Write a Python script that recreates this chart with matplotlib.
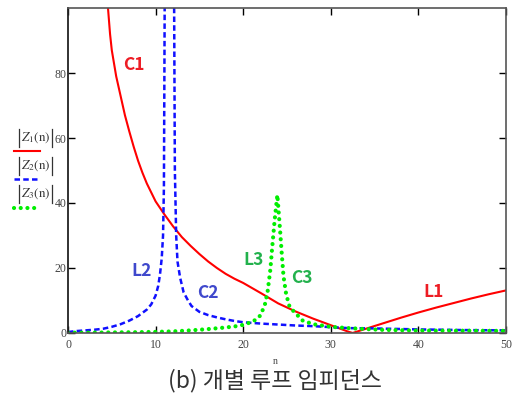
import matplotlib
matplotlib.use("Agg")
import matplotlib.pyplot as plt
from matplotlib.lines import Line2D

plt.rcParams["font.family"] = ["Noto Sans CJK KR", "DejaVu Sans"]
plt.rcParams["mathtext.fontset"] = "stix"

# |Z1(n)| : 직렬 공진 (C1 -> L1)
n1 = [4.55, 4.8, 5, 5.5, 6, 6.5, 7, 7.5, 8, 8.5, 9, 10, 11, 12, 13, 14, 15, 16,
      17, 18, 19, 20, 22, 24, 26, 28, 30, 32, 32.5, 34, 36, 38, 40, 42, 44, 46,
      48, 50]
z1 = [100.5, 92, 87, 79, 73, 67, 62, 57.3, 53, 49.3, 46, 40.5, 36.5, 32.8, 29.5,
      26.8, 24.3, 22, 20, 18.2, 16.7, 15.4, 12.3, 9.1, 6.6, 4.4, 2.4, 0.4, 0.0,
      1.3, 3.0, 4.7, 6.3, 7.8, 9.2, 10.6, 11.9, 13.1]

# |Z2(n)| : 병렬 공진 (L2 -> C2)
n2 = [0, 1, 2, 3, 4, 5, 6, 7, 8, 9, 9.5, 10, 10.3, 10.5, 10.7, 10.85, 10.95,
      11.05, 11.1, 12.05, 12.1, 12.2, 12.35, 12.5, 12.8, 13.2, 13.7, 14.1, 15,
      16, 17, 18, 19, 20, 22, 24, 26, 28, 30, 32, 35, 40, 45, 50]
z2 = [0.3, 0.6, 0.8, 1.0, 1.3, 1.9, 2.7, 3.8, 5.2, 7.2, 8.8, 11.5, 14.5, 18, 23,
      30, 45, 110, 250, 250, 110, 50, 30, 22, 17, 12.5, 10, 8.3, 6.5, 5.5, 4.8,
      4.2, 3.7, 3.3, 2.9, 2.6, 2.3, 2.1, 1.8, 1.5, 1.4, 1.1, 0.9, 0.8]

# |Z3(n)| : 병렬 공진 (L3 -> C3)
n3 = [0, 2, 4, 6, 8, 10, 12, 14, 16, 18, 19, 20, 21, 21.5, 22, 22.5, 22.8, 23.1,
      23.3, 23.6, 23.9, 24.0, 24.2, 24.4, 24.6, 24.9, 25.3, 26, 26.8, 28, 30,
      32, 34, 36, 40, 45, 50]
z3 = [0.1, 0.1, 0.15, 0.2, 0.25, 0.35, 0.5, 0.8, 1.2, 1.7, 2.0, 2.5, 3.4, 4.2,
      5.5, 9, 13, 19.5, 26, 35, 42.5, 39, 32, 24.5, 17.5, 12, 8, 6, 3.8, 2.7,
      1.9, 1.5, 1.2, 0.95, 0.75, 0.7, 0.65]

x_ticks = [0, 10, 20, 30, 40, 50]
y_ticks = [0, 20, 40, 60, 80]

RED = "#ff0000"
BLUE = "#1010ff"
GREEN = "#00ee00"
BLUE_LS = (0, (2.2, 1.3))
GREEN_LS = (0, (0.01, 1.6))

fig = plt.figure(figsize=(5.14, 3.95), dpi=100)
ax = fig.add_axes([0.1323, 0.157, 0.8521, 0.8227])

ax.plot(n1, z1, color=RED, lw=1.5)
ax.plot(n2, z2, color=BLUE, lw=1.8, linestyle=BLUE_LS)
ax.plot(n3, z3, color=GREEN, lw=3.0, linestyle=GREEN_LS, dash_capstyle="round")

ax.set_xlim(0, 50)
ax.set_ylim(0, 100)
ax.set_xticks(x_ticks)
ax.set_yticks(y_ticks)
ax.tick_params(direction="in", length=5, width=1, top=True, right=True,
               labelsize=8.5, labelcolor="#444444", pad=1)
for lab in ax.get_xticklabels() + ax.get_yticklabels():
    lab.set_family("Liberation Serif")
ax.tick_params(axis="x", pad=4)
for side in ["top", "right", "bottom"]:
    ax.spines[side].set_color("#555555")
    ax.spines[side].set_linewidth(1.2)
ax.spines["left"].set_color("#222222")
ax.spines["left"].set_linewidth(1.3)

# 곡선 이름
names = [("C1", 7.5, 82.5, "#ed1c24"), ("L1", 41.7, 12.6, "#ed1c24"),
         ("L2", 8.4, 19.0, "#3f48cc"), ("C2", 16.0, 12.2, "#3f48cc"),
         ("L3", 21.2, 22.6, "#22b14c"), ("C3", 26.7, 16.8, "#22b14c")]
for s, x, y, c in names:
    ax.text(x, y, s, color=c, fontsize=12.5, fontweight="bold",
            ha="center", va="center")

# 범례 (Mathcad 형식)
legend_items = [
    (r"$Z_1(\mathrm{n})$", RED, "-", 1.5, None),
    (r"$Z_2(\mathrm{n})$", BLUE, BLUE_LS, 1.8, None),
    (r"$Z_3(\mathrm{n})$", GREEN, GREEN_LS, 3.0, "round"),
]
W, H = 514.0, 395.0
text_y = [138, 166, 194]
line_y = [151, 179, 208]
texts = []
for (label, col, ls, lw, cap), ty, ly in zip(legend_items, text_y, line_y):
    t = fig.text(21 / W, 1 - ty / H, label, fontsize=9.5, color="#333333",
                 ha="left", va="center")
    texts.append((t, ty))
    ln = Line2D([14 / W, 40 / W], [1 - ly / H, 1 - ly / H], color=col, lw=lw,
                linestyle=ls, transform=fig.transFigure)
    if cap:
        ln.set_dash_capstyle(cap)
    fig.add_artist(ln)

fig.canvas.draw()
for t, ty in texts:
    bb = t.get_window_extent()
    for xb in (bb.x0 - 2.5, bb.x1 + 1.5):
        fig.add_artist(Line2D([xb / W, xb / W], [1 - (ty - 9) / H, 1 - (ty + 9) / H],
                              color="#333333", lw=0.9, transform=fig.transFigure))

fig.text(275 / W, 1 - 362 / H, "n", fontsize=7, family="Liberation Serif",
         color="#444444", ha="center", va="center")
fig.text(275 / W, 1 - 381 / H, "(b) 개별 루프 임피던스", fontsize=16.5,
         color="#333333", ha="center", va="center")

fig.savefig("out.png", dpi=100)
